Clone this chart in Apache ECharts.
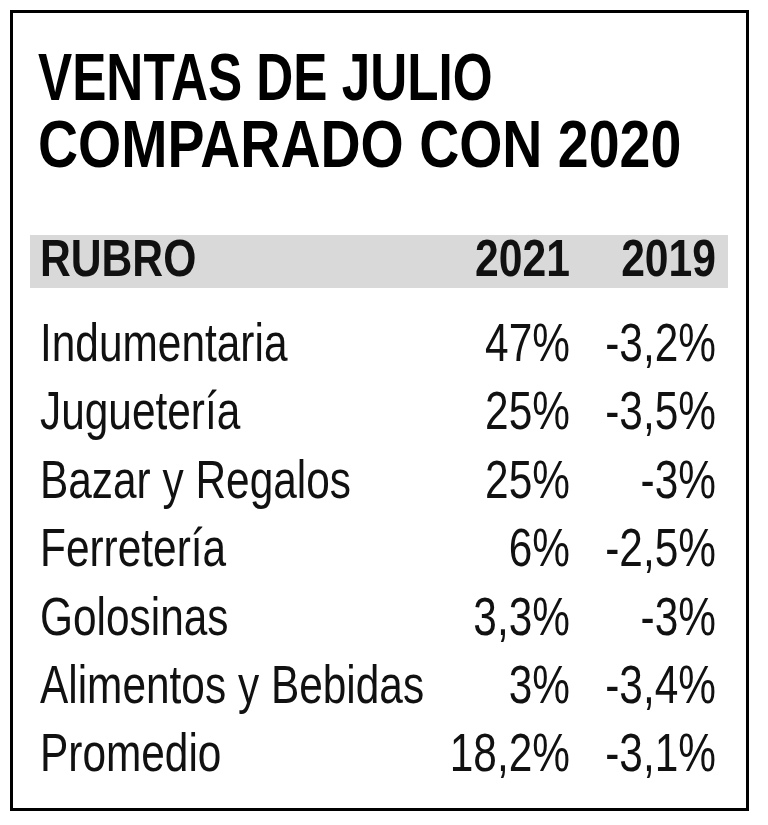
<!DOCTYPE html>
<html>
<head>
<meta charset="utf-8">
<script src="https://cdn.jsdelivr.net/npm/echarts@6/dist/echarts.min.js"></script>
<style>
  html, body { margin: 0; padding: 0; background: #fff; }
  #chart { width: 768px; height: 825px; }
</style>
</head>
<body>
<div id="chart"></div>
<script>
// datos de la tabla
const tituloLineas = ['VENTAS DE JULIO', 'COMPARADO CON 2020'];
const encabezados = ['RUBRO', '2021', '2019'];
const rubros = ['Indumentaria', 'Juguetería', 'Bazar y Regalos', 'Ferretería', 'Golosinas', 'Alimentos y Bebidas', 'Promedio'];
const ventas2021 = [47, 25, 25, 6, 3.3, 3, 18.2];
const ventas2019 = [-3.2, -3.5, -3, -2.5, -3, -3.4, -3.1];

// anclas de columna dentro de la franja (0 = borde izq., 1 = borde der.)
const colAncla = [0.0143, 0.7736, 0.9828];
const fuente = '"Liberation Sans", Arial, sans-serif';

const fmt = v => String(v).replace('.', ',') + '%';

const chart = echarts.init(document.getElementById('chart'));

// una columna de texto dibujada con serie custom (texto angostado como Arial Narrow)
function columna(idx, textos, grid, bold) {
    return {
        type: 'custom',
        xAxisIndex: grid,
        yAxisIndex: grid,
        z: 5,
        silent: true,
        data: textos.map((t, i) => [colAncla[idx], i, t]),
        renderItem: (params, api) => {
            const p = api.coord([api.value(0), api.value(1)]);
            return {
                type: 'text',
                x: p[0],
                y: p[1],
                scaleX: bold ? 0.82 : 0.8,
                style: {
                    text: textos[params.dataIndex],
                    font: (bold ? 'bold ' : '') + (bold ? 52 : 53) + 'px ' + fuente,
                    fill: '#111',
                    align: idx === 0 ? 'left' : 'right',
                    verticalAlign: 'middle'
                }
            };
        }
    };
}

const ejeX = { type: 'value', min: 0, max: 1, show: false };

chart.setOption({
    animation: false,
    backgroundColor: '#fff',
    grid: [
        { left: 30, right: 40, top: 235, height: 53 },
        { left: 30, right: 40, top: 312, height: 479 }
    ],
    xAxis: [
        { ...ejeX, gridIndex: 0 },
        { ...ejeX, gridIndex: 1 }
    ],
    yAxis: [
        { type: 'category', gridIndex: 0, data: ['enc'], show: false },
        { type: 'category', gridIndex: 1, data: rubros, inverse: true, show: false }
    ],
    graphic: [
        {
            type: 'rect',
            shape: { x: 11.5, y: 11.5, width: 736, height: 798 },
            style: { fill: 'none', stroke: '#000', lineWidth: 3 },
            silent: true
        },
        {
            type: 'text',
            x: 38, y: 82,
            scaleX: 0.765,
            style: { text: tituloLineas[0], font: 'bold 67px ' + fuente, fill: '#000', verticalAlign: 'middle' },
            silent: true
        },
        {
            type: 'text',
            x: 38, y: 149,
            scaleX: 0.828,
            style: { text: tituloLineas[1], font: 'bold 67px ' + fuente, fill: '#000', verticalAlign: 'middle' },
            silent: true
        }
    ],
    series: [
        // franja gris del encabezado
        {
            type: 'bar',
            xAxisIndex: 0,
            yAxisIndex: 0,
            z: 1,
            data: [1],
            barWidth: '100%',
            itemStyle: { color: '#d9d9d9' },
            silent: true
        },
        columna(0, [encabezados[0]], 0, true),
        columna(1, [encabezados[1]], 0, true),
        columna(2, [encabezados[2]], 0, true),
        columna(0, rubros, 1, false),
        columna(1, ventas2021.map(fmt), 1, false),
        columna(2, ventas2019.map(fmt), 1, false)
    ]
});
</script>
</body>
</html>
